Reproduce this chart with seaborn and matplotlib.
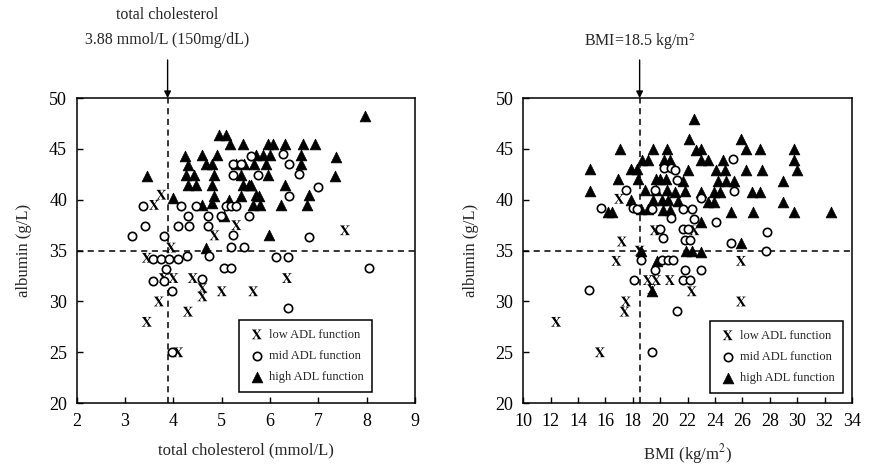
import matplotlib
matplotlib.use("Agg")
import matplotlib.pyplot as plt
import pandas as pd
import seaborn as sns

# left panel: total cholesterol (mmol/L) vs albumin (g/L)
chol_low_x = [3.45, 3.7, 3.45, 3.6, 3.75, 3.8, 4.0, 3.95, 4.4, 4.3, 4.6, 4.6, 4.1, 5.0, 5.65, 4.85, 5.3, 6.35, 7.55]
chol_low_y = [28, 30, 34.3, 39.5, 40.5, 32.3, 32.3, 35.3, 32.3, 29, 30.5, 31.3, 25, 31, 31, 36.5, 37.5, 32.3, 37]
chol_mid_x = [3.15, 3.38, 3.42, 3.8, 4.15, 4.46, 4.31, 4.1, 4.33, 4.71, 4.71, 4.98, 5.56, 5.08, 5.2,
              5.3, 5.23, 5.23, 5.23, 5.4, 5.6, 5.75, 6.27, 6.4, 6.6, 7.0, 6.4, 6.8, 5.2, 5.46,
              3.57, 3.75, 3.9, 4.1, 4.29, 4.73, 3.85, 5.05, 5.2, 3.57, 3.8, 4.6, 3.98, 3.98,
              6.12, 6.37, 6.37, 8.05]
chol_mid_y = [36.4, 39.4, 37.4, 36.4, 39.4, 39.4, 38.4, 37.4, 37.4, 38.4, 37.4, 38.4, 38.4, 39.4, 39.4,
              39.4, 36.5, 42.4, 43.5, 43.5, 44.3, 42.4, 44.5, 43.5, 42.5, 41.3, 40.4, 36.3, 35.4, 35.4,
              34.2, 34.2, 34.2, 34.2, 34.5, 34.5, 33.2, 33.3, 33.3, 32, 32, 32.2, 31, 25,
              34.4, 34.4, 29.4, 33.3]
chol_high_x = [3.45, 4.0, 4.25, 4.3, 4.27, 4.42, 4.3, 4.46, 4.6, 4.67, 4.8, 4.83, 4.8, 4.9,
               4.94, 5.08, 5.18, 5.43, 5.3, 5.4, 5.44, 5.6, 5.67, 5.7, 4.83, 4.6, 4.8, 5.04,
               5.4, 5.65, 5.77, 5.96, 6.06, 6.3, 6.69, 6.92, 7.96, 7.37, 7.35, 5.85, 6.0, 6.65,
               5.46, 5.92, 6.65, 5.96, 5.56, 6.3, 5.7, 6.8, 5.8, 6.23, 6.77, 5.98, 4.67, 5.15]
chol_high_y = [42.3, 40.2, 44.3, 43.4, 42.4, 42.4, 41.5, 41.5, 44.4, 43.5, 43.5, 42.4, 41.5, 44.4,
               46.4, 46.4, 45.5, 45.5, 43.5, 42.4, 41.5, 41.5, 43.5, 44.4, 40.4, 39.5, 39.7, 38.4,
               40.4, 39.5, 40.4, 45.5, 45.5, 45.5, 45.5, 45.5, 48.2, 44.2, 42.3, 44.4, 44.4, 44.4,
               43.5, 43.5, 43.5, 42.4, 41.5, 41.5, 40.5, 40.5, 39.5, 39.5, 39.5, 36.5, 35.3, 40.0]

# right panel: BMI (kg/m2) vs albumin (g/L)
bmi_low_x = [12.4, 15.6, 17.4, 17.5, 16.8, 17.2, 17.0, 18.5, 19.6, 22.5, 19.1, 19.7, 20.7, 22.3, 19.4, 25.9, 25.9]
bmi_low_y = [28, 25, 29, 30, 34, 35.9, 40.1, 35, 37, 37, 32.1, 32.1, 32.1, 31, 31.2, 34, 30]
bmi_mid_x = [15.7, 17.5, 18.0, 19.6, 20.3, 20.8, 21.1, 21.2, 23.0, 25.3, 25.4, 18.3, 19.4, 21.7, 22.3,
             20.8, 22.5, 20.0, 21.7, 22.0, 20.2, 21.8, 22.2, 24.1, 27.8, 25.2, 27.7, 18.6, 20.1,
             20.6, 20.9, 19.6, 21.8, 23.0, 18.1, 21.7, 22.2, 14.8, 21.2, 19.4]
bmi_mid_y = [39.2, 41.0, 39.2, 41.0, 43.1, 43.1, 42.9, 41.9, 40.2, 44.0, 40.9, 39.1, 39.1, 39.1, 39.1,
             38.2, 38.1, 37.1, 37.1, 37.1, 36.2, 36.0, 36.0, 37.8, 36.8, 35.8, 35.0, 34.1, 34.1,
             34.1, 34.1, 33.1, 33.1, 33.1, 32.1, 32.1, 32.1, 31.1, 29.1, 25.0]
bmi_high_x = [14.9, 14.9, 16.2, 16.5, 16.9, 17.1, 17.9, 18.3, 17.9, 18.4, 18.7, 19.1, 18.9, 18.6, 19.1,
              19.5, 20.5, 19.5, 20.1, 20.6, 20.2, 20.7, 20.3, 20.7, 19.7, 20.0, 20.4, 20.5, 19.7,
              21.3, 21.7, 21.8, 22.0, 22.6, 23.0, 22.5, 22.1, 25.9, 23.0, 26.3, 27.3, 29.8, 29.8,
              23.5, 24.6, 30.0, 24.1, 24.7, 26.3, 27.4, 29.0, 24.2, 24.8, 25.4, 21.1, 23.0, 23.9,
              24.4, 26.7, 27.3, 23.5, 23.9, 29.0, 25.2, 26.8, 29.8, 32.5, 23.0, 25.9, 21.9, 22.3,
              23.0, 19.8, 19.4, 18.6]
bmi_high_y = [43.0, 40.9, 38.8, 38.8, 42.0, 45.0, 43.0, 43.0, 40.0, 42.0, 43.9, 43.9, 41.0, 39.1, 39.1,
              45.0, 45.0, 40.0, 40.0, 40.0, 39.0, 39.0, 43.9, 43.9, 42.0, 42.0, 42.0, 41.0, 41.0,
              39.9, 41.8, 40.9, 42.9, 44.9, 43.9, 47.9, 46.0, 46.0, 45.0, 45.0, 45.0, 45.0, 43.9,
              43.9, 43.9, 42.9, 42.9, 42.9, 42.9, 42.9, 41.8, 41.8, 41.8, 41.8, 40.8, 40.8, 40.8,
              40.8, 40.8, 40.8, 39.8, 39.8, 39.8, 38.8, 38.8, 38.8, 38.8, 37.8, 35.8, 35.0, 35.0,
              34.9, 34.0, 31.0, 35.0]

group_labels = ["low ADL function", "mid ADL function", "high ADL function"]

sns.set_theme(style="ticks")
plt.rcParams["font.family"] = ["Liberation Serif", "DejaVu Serif"]
plt.rcParams["mathtext.fontset"] = "stix"


def draw_panel(ax, low, mid, high, xlim, xticks, xlabel, cut_x):
    high_df = pd.DataFrame({"x": high[0], "y": high[1]})
    mid_df = pd.DataFrame({"x": mid[0], "y": mid[1]})
    low_df = pd.DataFrame({"x": low[0], "y": low[1]})

    ax.axhline(35, color="black", lw=1.1, ls=(0, (4, 3)), zorder=1)
    ax.axvline(cut_x, color="black", lw=1.1, ls=(0, (4, 3)), zorder=1)

    sns.scatterplot(data=low_df, x="x", y="y", marker="$\\mathbf{X}$", s=50, color="black",
                    edgecolor="none", linewidth=0, label=group_labels[0], ax=ax, zorder=3)
    sns.scatterplot(data=mid_df, x="x", y="y", marker="o", s=36, color="white",
                    edgecolor="black", linewidth=1.2, label=group_labels[1], ax=ax, zorder=3)
    sns.scatterplot(data=high_df, x="x", y="y", marker="^", s=60, color="black",
                    edgecolor="black", linewidth=0.5, label=group_labels[2], ax=ax, zorder=2)

    ax.set_xlim(*xlim)
    ax.set_ylim(20, 50)
    ax.set_xticks(xticks)
    ax.set_yticks(range(20, 51, 5))
    ax.tick_params(direction="in", length=4, width=1, labelsize=13, colors="black", pad=7)
    for sp in ax.spines.values():
        sp.set_visible(True)
        sp.set_color("black")
        sp.set_linewidth(1.1)
    ax.set_xlabel(xlabel, fontsize=12, labelpad=9)
    ax.set_ylabel("albumin (g/L)", fontsize=12, labelpad=12)


fig = plt.figure(figsize=(8.72, 4.65), dpi=100)
ax1 = fig.add_axes([0.088, 0.133, 0.388, 0.656])
ax2 = fig.add_axes([0.600, 0.133, 0.377, 0.656])

draw_panel(ax1, (chol_low_x, chol_low_y), (chol_mid_x, chol_mid_y), (chol_high_x, chol_high_y),
           (2, 9), range(2, 10), "total cholesterol (mmol/L)", 3.88)
draw_panel(ax2, (bmi_low_x, bmi_low_y), (bmi_mid_x, bmi_mid_y), (bmi_high_x, bmi_high_y),
           (10, 34), range(10, 35, 2), "BMI (kg/m$^2$)", 18.5)

for ax, anchor in [(ax1, (0.873, 0.036)), (ax2, (0.973, 0.033))]:
    leg = ax.legend(loc="lower right", bbox_to_anchor=anchor, fontsize=9, frameon=True,
                    fancybox=False, framealpha=1, edgecolor="black", borderpad=0.7,
                    handletextpad=0.2, handlelength=1.5, labelspacing=0.75, borderaxespad=0)
    leg.get_frame().set_linewidth(1.1)

# cut-off arrows and notes above the panels
arrow = dict(arrowstyle="-|>", color="black", lw=1, mutation_scale=10, shrinkA=0, shrinkB=0)
ax1.annotate("", xy=(3.88, 1.0), xytext=(3.88, 1.125), xycoords=("data", "axes fraction"),
             arrowprops=arrow, annotation_clip=False)
ax1.annotate("total cholesterol\n3.88 mmol/L (150mg/dL)", xy=(3.88, 1.165),
             xycoords=("data", "axes fraction"), ha="center", va="bottom", fontsize=11.5,
             linespacing=1.75, annotation_clip=False)
ax2.annotate("", xy=(18.5, 1.0), xytext=(18.5, 1.125), xycoords=("data", "axes fraction"),
             arrowprops=arrow, annotation_clip=False)
ax2.annotate("BMI=18.5 kg/m$^2$", xy=(18.5, 1.15), xycoords=("data", "axes fraction"),
             ha="center", va="bottom", fontsize=11.5, annotation_clip=False)

fig.savefig("out.png", dpi=100)
